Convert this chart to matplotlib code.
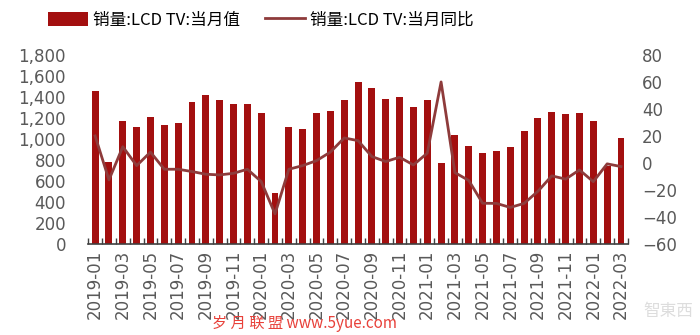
import matplotlib
matplotlib.use("Agg")
import matplotlib.pyplot as plt
from matplotlib.ticker import FuncFormatter, FixedLocator
import numpy as np

plt.rcParams['font.family'] = ['DejaVu Sans', 'Noto Sans CJK SC']

months = [f"{y}-{m:02d}" for y in (2019, 2020, 2021) for m in range(1, 13)] + \
         ["2022-01", "2022-02", "2022-03"]

# 销量:LCD TV:当月值 (left axis)
sales = [1460, 784, 1174, 1117, 1213, 1136, 1149, 1352, 1419, 1371, 1337, 1337,
         1248, 483, 1111, 1092, 1245, 1264, 1371, 1546, 1489, 1378, 1397, 1302,
         1368, 768, 1038, 933, 864, 889, 927, 1079, 1200, 1260, 1235, 1244,
         1174, 740, 1006]

# 销量:LCD TV:当月同比 (right axis, %)
yoy = [20, -12.6, 12, -2, 8, -4.7, -4.7, -6.4, -8.4, -8.9, -7.7, -4.7,
       -13.8, -37.8, -4.7, -2, 1.7, 8, 18.5, 16.5, 4.7, 1, 4.2, -1.5,
       7.2, 60, -7.2, -13, -29.9, -30, -33, -30, -21, -9.6, -12, -5.2,
       -13.9, -0.7, -2.7]

bar_color = "#A30F0F"
line_color = "#8E3B3B"
tick_color = "#595959"

fig = plt.figure(figsize=(7, 3.35), dpi=100)
ax = fig.add_axes([0.126, 0.272, 0.771, 0.564])
ax2 = ax.twinx()

x = np.arange(len(months))
ax.bar(x, sales, width=0.5, color=bar_color, label="销量:LCD TV:当月值")
ax2.plot(x, yoy, color=line_color, lw=2, label="销量:LCD TV:当月同比")

ax.set_xlim(-0.5, len(months) - 0.5)
ax.set_ylim(0, 1800)
ax.set_yticks(range(0, 1801, 200))
ax.yaxis.set_major_formatter(FuncFormatter(lambda v, p: f"{int(v):,}"))
ax2.set_ylim(-60, 80)
ax2.set_yticks(range(-60, 81, 20))

ax.set_xticks(x[::2])
ax.set_xticklabels(months[::2], rotation=90)
ax.xaxis.set_minor_locator(FixedLocator(np.arange(-0.5, len(months), 1)))
ax.tick_params(axis='x', which='major', length=0, labelsize=12,
               labelcolor=tick_color, pad=4)
ax.tick_params(axis='x', which='minor', direction='in', length=4,
               color="#404040", width=1)
ax.tick_params(axis='y', length=0, labelsize=12, labelcolor=tick_color, pad=16)
ax2.tick_params(axis='y', length=0, labelsize=12, labelcolor=tick_color, pad=10)

for a in (ax, ax2):
    for s in ("top", "left", "right", "bottom"):
        a.spines[s].set_visible(False)
ax.spines["bottom"].set_visible(True)
ax.spines["bottom"].set_color("#404040")
ax.spines["bottom"].set_linewidth(1.2)

h1, l1 = ax.get_legend_handles_labels()
h2, l2 = ax2.get_legend_handles_labels()
fig.legend(h1 + h2, l1 + l2, loc="upper center", bbox_to_anchor=(0.372, 1.01),
           ncol=2, frameon=False, handlelength=2.4, handleheight=0.9,
           columnspacing=1.5, handletextpad=0.3,
           prop={'family': ['Noto Sans CJK SC', 'DejaVu Sans'], 'size': 12})

# watermarks
fig.text(0.303, 0.035, "岁 月 联 盟 www.5yue.com", color="#E8413A", fontsize=11,
         family=['Noto Sans CJK SC', 'DejaVu Sans'], ha="left", va="center")
fig.text(0.955, 0.07, "智東西", color="#DDDDDD", fontsize=12,
         family=['Noto Sans CJK TC', 'DejaVu Sans'], ha="center", va="center")

fig.savefig("out.png", dpi=100)
